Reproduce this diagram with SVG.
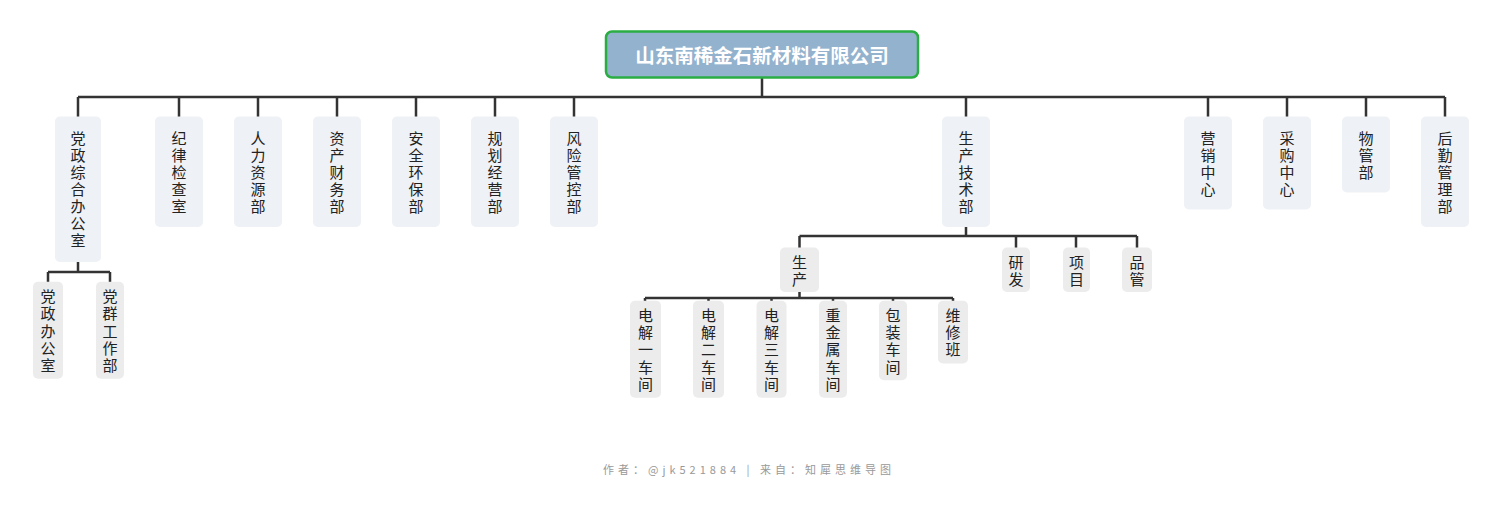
<svg xmlns="http://www.w3.org/2000/svg" width="1500" height="513" viewBox="0 0 1500 513">
<style>
.bg{fill:#ffffff}
.n1{fill:#eef1f5}
.n2{fill:#ececec}
.t{font-family:"Liberation Sans","Noto Sans CJK SC",sans-serif;font-size:15px;fill:#222;text-anchor:middle;dominant-baseline:central}
.root-r{fill:#93b2ce;stroke:#2aae44;stroke-width:2.5}
.root-t{font-family:"Noto Sans CJK SC","Noto Sans",sans-serif;font-size:19.5px;font-weight:bold;fill:#ffffff;text-anchor:middle;dominant-baseline:central}
.c{fill:none;stroke:#333;stroke-width:2.5}
.foot{font-family:"Noto Sans CJK SC","Noto Sans",sans-serif;font-size:11px;fill:#999;text-anchor:middle;letter-spacing:4px}
</style>
<rect class="bg" x="0" y="0" width="1500" height="513"/>
<g id="connectors">
<path class="c" d="M762,78V97M78,97H1445M78,97V117M179,97V117M258,97V117M337,97V117M416,97V117M495,97V117M574,97V117M966,97V117M1208,97V117M1287,97V117M1366,97V117M1445,97V117"/>
<path class="c" d="M78,262V272M48,272H110M48,272V282M110,272V282"/>
<path class="c" d="M966,227V236M799.5,236H1137M799.5,236V248M1016,236V248M1076,236V248M1137,236V248"/>
<path class="c" d="M799.5,292V298M645,298H953M645,298V301M708.5,298V301M771.5,298V301M833,298V301M893,298V301M953,298V301"/>
</g>
<g id="root">
<rect class="root-r" x="606" y="31.5" width="312" height="46" rx="6"/>
<text class="root-t" x="762" y="54.5">山东南稀金石新材料有限公司</text>
</g>
<g id="n-dangzheng">
<rect class="n1" x="55" y="116.5" width="46" height="145.5" rx="5"/>
<text class="t"><tspan x="78" y="137.5">党</tspan><tspan x="78" y="154.6">政</tspan><tspan x="78" y="171.7">综</tspan><tspan x="78" y="188.8">合</tspan><tspan x="78" y="205.9">办</tspan><tspan x="78" y="223">公</tspan><tspan x="78" y="240.1">室</tspan></text>
</g>
<g id="n-jilv">
<rect class="n1" x="155" y="116.5" width="48" height="110.5" rx="5"/>
<text class="t"><tspan x="179" y="137.5">纪</tspan><tspan x="179" y="154.6">律</tspan><tspan x="179" y="171.7">检</tspan><tspan x="179" y="188.8">查</tspan><tspan x="179" y="205.9">室</tspan></text>
</g>
<g id="n-renli">
<rect class="n1" x="234" y="116.5" width="48" height="110.5" rx="5"/>
<text class="t"><tspan x="258" y="137.5">人</tspan><tspan x="258" y="154.6">力</tspan><tspan x="258" y="171.7">资</tspan><tspan x="258" y="188.8">源</tspan><tspan x="258" y="205.9">部</tspan></text>
</g>
<g id="n-zichan">
<rect class="n1" x="313" y="116.5" width="48" height="110.5" rx="5"/>
<text class="t"><tspan x="337" y="137.5">资</tspan><tspan x="337" y="154.6">产</tspan><tspan x="337" y="171.7">财</tspan><tspan x="337" y="188.8">务</tspan><tspan x="337" y="205.9">部</tspan></text>
</g>
<g id="n-anquan">
<rect class="n1" x="392" y="116.5" width="48" height="110.5" rx="5"/>
<text class="t"><tspan x="416" y="137.5">安</tspan><tspan x="416" y="154.6">全</tspan><tspan x="416" y="171.7">环</tspan><tspan x="416" y="188.8">保</tspan><tspan x="416" y="205.9">部</tspan></text>
</g>
<g id="n-guihua">
<rect class="n1" x="471" y="116.5" width="48" height="110.5" rx="5"/>
<text class="t"><tspan x="495" y="137.5">规</tspan><tspan x="495" y="154.6">划</tspan><tspan x="495" y="171.7">经</tspan><tspan x="495" y="188.8">营</tspan><tspan x="495" y="205.9">部</tspan></text>
</g>
<g id="n-fengxian">
<rect class="n1" x="550" y="116.5" width="48" height="110.5" rx="5"/>
<text class="t"><tspan x="574" y="137.5">风</tspan><tspan x="574" y="154.6">险</tspan><tspan x="574" y="171.7">管</tspan><tspan x="574" y="188.8">控</tspan><tspan x="574" y="205.9">部</tspan></text>
</g>
<g id="n-shengchanjishu">
<rect class="n1" x="942" y="116.5" width="48" height="110.5" rx="5"/>
<text class="t"><tspan x="966" y="137.5">生</tspan><tspan x="966" y="154.6">产</tspan><tspan x="966" y="171.7">技</tspan><tspan x="966" y="188.8">术</tspan><tspan x="966" y="205.9">部</tspan></text>
</g>
<g id="n-yingxiao">
<rect class="n1" x="1184" y="116.5" width="48" height="93" rx="5"/>
<text class="t"><tspan x="1208" y="137.5">营</tspan><tspan x="1208" y="154.6">销</tspan><tspan x="1208" y="171.7">中</tspan><tspan x="1208" y="188.8">心</tspan></text>
</g>
<g id="n-caigou">
<rect class="n1" x="1263" y="116.5" width="48" height="93" rx="5"/>
<text class="t"><tspan x="1287" y="137.5">采</tspan><tspan x="1287" y="154.6">购</tspan><tspan x="1287" y="171.7">中</tspan><tspan x="1287" y="188.8">心</tspan></text>
</g>
<g id="n-wuguan">
<rect class="n1" x="1342" y="116.5" width="48" height="76" rx="5"/>
<text class="t"><tspan x="1366" y="137.5">物</tspan><tspan x="1366" y="154.6">管</tspan><tspan x="1366" y="171.7">部</tspan></text>
</g>
<g id="n-houqin">
<rect class="n1" x="1421" y="116.5" width="48" height="110.5" rx="5"/>
<text class="t"><tspan x="1445" y="137.5">后</tspan><tspan x="1445" y="154.6">勤</tspan><tspan x="1445" y="171.7">管</tspan><tspan x="1445" y="188.8">理</tspan><tspan x="1445" y="205.9">部</tspan></text>
</g>
<g id="n-dangzhengban">
<rect class="n2" x="33" y="281.7" width="30" height="97" rx="5"/>
<text class="t"><tspan x="48" y="296.3">党</tspan><tspan x="48" y="313.4">政</tspan><tspan x="48" y="330.5">办</tspan><tspan x="48" y="347.6">公</tspan><tspan x="48" y="364.7">室</tspan></text>
</g>
<g id="n-dangqun">
<rect class="n2" x="96" y="281.7" width="28" height="97" rx="5"/>
<text class="t"><tspan x="110" y="296.3">党</tspan><tspan x="110" y="313.4">群</tspan><tspan x="110" y="330.5">工</tspan><tspan x="110" y="347.6">作</tspan><tspan x="110" y="364.7">部</tspan></text>
</g>
<g id="n-shengchan">
<rect class="n2" x="780" y="247.5" width="39" height="44.5" rx="5"/>
<text class="t"><tspan x="799.5" y="261.5">生</tspan><tspan x="799.5" y="278.6">产</tspan></text>
</g>
<g id="n-yanfa">
<rect class="n2" x="1002" y="247.5" width="28" height="44.5" rx="5"/>
<text class="t"><tspan x="1016" y="261.5">研</tspan><tspan x="1016" y="278.6">发</tspan></text>
</g>
<g id="n-xiangmu">
<rect class="n2" x="1063" y="247.5" width="27" height="44.5" rx="5"/>
<text class="t"><tspan x="1076.5" y="261.5">项</tspan><tspan x="1076.5" y="278.6">目</tspan></text>
</g>
<g id="n-pinguan">
<rect class="n2" x="1122" y="247.5" width="30" height="44.5" rx="5"/>
<text class="t"><tspan x="1137" y="261.5">品</tspan><tspan x="1137" y="278.6">管</tspan></text>
</g>
<g id="n-dianjie1">
<rect class="n2" x="630" y="300.7" width="31" height="97" rx="5"/>
<text class="t"><tspan x="645.5" y="315.2">电</tspan><tspan x="645.5" y="332.3">解</tspan><tspan x="645.5" y="349.4">一</tspan><tspan x="645.5" y="366.5">车</tspan><tspan x="645.5" y="383.6">间</tspan></text>
</g>
<g id="n-dianjie2">
<rect class="n2" x="693" y="300.7" width="31" height="97" rx="5"/>
<text class="t"><tspan x="708.5" y="315.2">电</tspan><tspan x="708.5" y="332.3">解</tspan><tspan x="708.5" y="349.4">二</tspan><tspan x="708.5" y="366.5">车</tspan><tspan x="708.5" y="383.6">间</tspan></text>
</g>
<g id="n-dianjie3">
<rect class="n2" x="756.5" y="300.7" width="30" height="97" rx="5"/>
<text class="t"><tspan x="771.5" y="315.2">电</tspan><tspan x="771.5" y="332.3">解</tspan><tspan x="771.5" y="349.4">三</tspan><tspan x="771.5" y="366.5">车</tspan><tspan x="771.5" y="383.6">间</tspan></text>
</g>
<g id="n-zhongjinshu">
<rect class="n2" x="819" y="300.7" width="28" height="97" rx="5"/>
<text class="t"><tspan x="833" y="315.2">重</tspan><tspan x="833" y="332.3">金</tspan><tspan x="833" y="349.4">属</tspan><tspan x="833" y="366.5">车</tspan><tspan x="833" y="383.6">间</tspan></text>
</g>
<g id="n-baozhuang">
<rect class="n2" x="879" y="300.7" width="28" height="79.5" rx="5"/>
<text class="t"><tspan x="893" y="315.2">包</tspan><tspan x="893" y="332.3">装</tspan><tspan x="893" y="349.4">车</tspan><tspan x="893" y="366.5">间</tspan></text>
</g>
<g id="n-weixiu">
<rect class="n2" x="938" y="300.7" width="30" height="62.8" rx="5"/>
<text class="t"><tspan x="953" y="315.2">维</tspan><tspan x="953" y="332.3">修</tspan><tspan x="953" y="349.4">班</tspan></text>
</g>
<text class="foot" x="749" y="474">作者：@jk521884 | 来自：知犀思维导图</text>
</svg>
